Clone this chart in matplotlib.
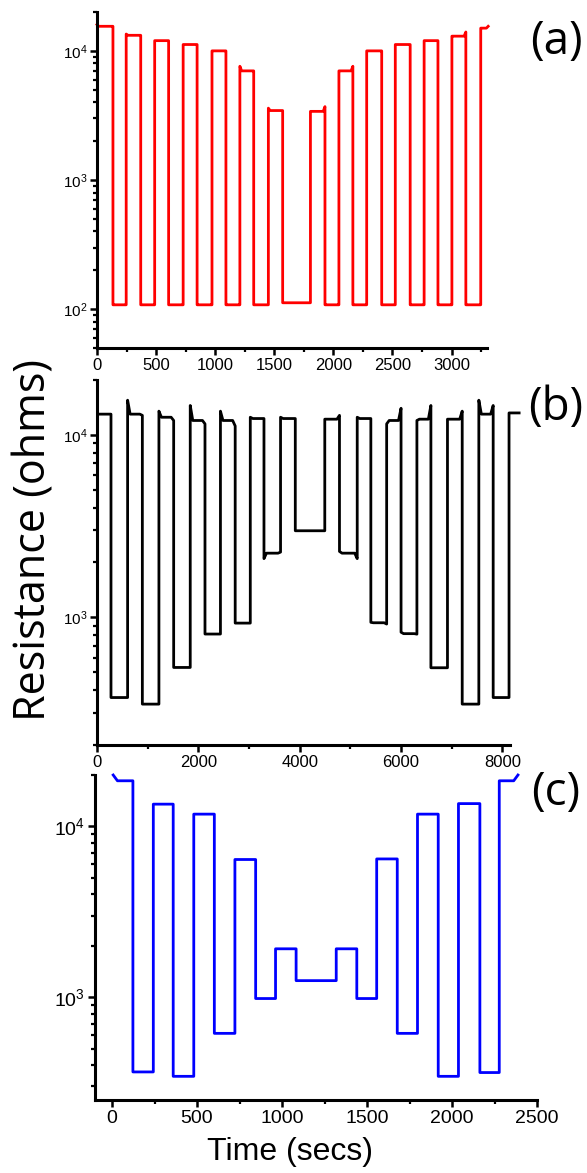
import matplotlib
matplotlib.use("Agg")
import matplotlib.pyplot as plt
from matplotlib.ticker import MultipleLocator, LogLocator, NullFormatter

# ---------------- data ----------------
# panel (a): switching times (s); plateau level, start value and end value of each segment (ohms)
t_a = [0, 135, 247, 370, 488, 606, 729, 847, 973, 1091, 1209, 1326, 1450, 1571,
       1806, 1929, 2047, 2165, 2282, 2409, 2524, 2650, 2768, 2885, 3003, 3121, 3247, 3310]
r_a_level = [1.55e4, 108, 1.32e4, 108, 1.2e4, 108, 1.12e4, 108, 1.0e4, 108, 7.0e3, 108, 3.45e3, 112,
             3.4e3, 108, 7.0e3, 108, 1.0e4, 108, 1.12e4, 108, 1.2e4, 108, 1.3e4, 108, 1.5e4]
r_a_start = [1.6e4, 108, 1.35e4, 108, 1.2e4, 108, 1.12e4, 108, 1.0e4, 108, 7.6e3, 108, 3.6e3, 112,
             3.4e3, 108, 7.0e3, 108, 1.0e4, 108, 1.12e4, 108, 1.2e4, 108, 1.3e4, 108, 1.5e4]
r_a_end = [1.55e4, 108, 1.32e4, 108, 1.2e4, 108, 1.12e4, 108, 1.0e4, 108, 7.0e3, 108, 3.45e3, 112,
           3.7e3, 108, 7.6e3, 108, 1.0e4, 108, 1.12e4, 108, 1.2e4, 108, 1.4e4, 108, 1.55e4]

# panel (b)
t_b = [40, 276, 604, 895, 1222, 1513, 1840, 2131, 2436, 2727, 3025, 3295, 3622, 3913, 4495,
       4785, 5135, 5404, 5716, 6000, 6313, 6589, 6916, 7207, 7535, 7818, 8131, 8330]
r_b_level = [1.3e4, 364, 1.3e4, 335, 1.25e4, 532, 1.2e4, 811, 1.2e4, 931, 1.23e4, 2250, 1.23e4,
             2985, 1.22e4, 2250, 1.23e4, 935, 1.2e4, 815, 1.22e4, 530, 1.22e4, 335, 1.3e4, 364, 1.32e4]
r_b_start = [1.3e4, 364, 1.55e4, 335, 1.35e4, 532, 1.45e4, 811, 1.35e4, 931, 1.25e4, 2100, 1.25e4,
             2985, 1.22e4, 2300, 1.25e4, 940, 1.15e4, 830, 1.2e4, 530, 1.22e4, 335, 1.55e4, 364, 1.32e4]
r_b_end = [1.3e4, 364, 1.28e4, 335, 1.2e4, 532, 1.15e4, 811, 1.12e4, 931, 1.23e4, 2280, 1.23e4,
           2985, 1.28e4, 2100, 1.23e4, 920, 1.4e4, 810, 1.45e4, 530, 1.35e4, 335, 1.45e4, 364, 1.32e4]

# panel (c)
t_c = [7, 123, 243, 360, 481, 602, 723, 845, 962, 1083, 1319, 1440, 1557, 1678, 1797,
       1919, 2038, 2164, 2278, 2388]
r_c_level = [1.85e4, 365, 1.35e4, 344, 1.18e4, 614, 6.4e3, 982, 1.92e3, 1.25e3, 1.92e3, 982,
             6.45e3, 614, 1.18e4, 344, 1.36e4, 362, 1.85e4]
r_c_start = [2.0e4, 365, 1.35e4, 344, 1.18e4, 614, 6.4e3, 982, 1.92e3, 1.25e3, 1.92e3, 982,
             6.45e3, 614, 1.18e4, 344, 1.36e4, 362, 1.85e4]
r_c_end = [1.85e4, 365, 1.35e4, 344, 1.18e4, 614, 6.4e3, 982, 1.92e3, 1.25e3, 1.92e3, 982,
           6.45e3, 614, 1.18e4, 344, 1.36e4, 362, 2.0e4]


def steps(t, lev, v0, v1, settle):
    xs, ys = [], []
    for i in range(len(lev)):
        xs += [t[i], t[i] + settle, t[i + 1] - settle, t[i + 1]]
        ys += [v0[i], lev[i], lev[i], v1[i]]
    return xs, ys


W, H = 587, 1173
fig = plt.figure(figsize=(W / 100, H / 100), dpi=100)
plt.rcParams['font.family'] = ['Liberation Sans', 'DejaVu Sans']
plt.rcParams['mathtext.default'] = 'regular'


def add_axes(l, r, t, b):
    return fig.add_axes([l / W, 1 - b / H, (r - l) / W, (b - t) / H])


def style(ax, xfs, yfs):
    for s in ['top', 'right']:
        ax.spines[s].set_visible(False)
    for s in ['left', 'bottom']:
        ax.spines[s].set_linewidth(2.2)
    ax.tick_params(which='major', direction='out', length=5, width=1.8, pad=2)
    ax.tick_params(axis='x', labelsize=xfs)
    ax.tick_params(axis='y', labelsize=yfs)
    ax.tick_params(which='minor', direction='out', length=3, width=1.6)
    ax.set_yscale('log')
    ax.yaxis.set_minor_locator(LogLocator(base=10, subs=range(2, 10)))
    ax.yaxis.set_minor_formatter(NullFormatter())


# (a)
ax1 = add_axes(97, 487, 12, 348)
x, y = steps(t_a, r_a_level, r_a_start, r_a_end, 15)
ax1.plot(x, y, color='#ff0000', lw=2.0, clip_on=False)
style(ax1, 12, 11)
ax1.set_xlim(0, 3300)
ax1.set_ylim(50, 2e4)
ax1.xaxis.set_major_locator(MultipleLocator(500))
ax1.xaxis.set_minor_locator(MultipleLocator(250))

# (b)
ax2 = add_axes(97, 510, 380, 745)
x, y = steps(t_b, r_b_level, r_b_start, r_b_end, 50)
ax2.plot(x, y, color='black', lw=2.0, clip_on=False)
style(ax2, 12, 11)
ax2.set_xlim(0, 8150)
ax2.set_ylim(200, 2e4)
ax2.xaxis.set_major_locator(MultipleLocator(2000))
ax2.xaxis.set_minor_locator(MultipleLocator(1000))

# (c)
ax3 = add_axes(95, 537, 775, 1100)
x, y = steps(t_c, r_c_level, r_c_start, r_c_end, 25)
ax3.plot(x, y, color='#0000ff', lw=2.0, clip_on=False)
style(ax3, 14, 14)
ax3.set_xlim(-100, 2500)
ax3.set_ylim(250, 2e4)
ax3.xaxis.set_major_locator(MultipleLocator(500))
ax3.xaxis.set_minor_locator(MultipleLocator(250))

# panel labels
for lab, yy in [('(a)', 42), ('(b)', 408), ('(c)', 793)]:
    fig.text(556 / W, 1 - yy / H, lab, fontsize=33, family='Open Sans',
             ha='center', va='center')

fig.text(34 / W, 1 - 540 / H, 'Resistance (ohms)', fontsize=31, family='Open Sans',
         rotation=90, ha='center', va='center')
fig.text(290 / W, 1 - 1152 / H, 'Time (secs)', fontsize=23, ha='center', va='center')

fig.savefig('out.png', dpi=100, facecolor='white')
